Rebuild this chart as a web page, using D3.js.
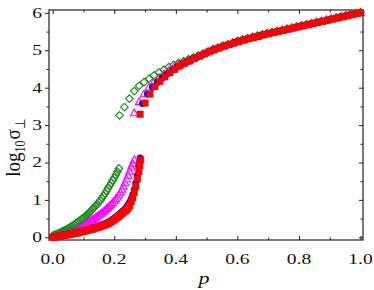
<!DOCTYPE html>
<html><head><meta charset="utf-8">
<script src="https://cdn.jsdelivr.net/npm/d3@7"></script>
<style>html,body{margin:0;padding:0;background:#fff;}svg{display:block;}</style>
</head><body><div id="chart"></div>
<script>
// ---------- data ----------
// lower branches (p, log10 sigma)
const greenLowP = [0,0.005,0.01,0.015,0.02,0.025,0.03,0.035,0.04,0.045,0.05,0.055,0.06,0.065,0.07,0.075,0.08,0.085,0.09,0.095,0.10,0.105,0.11,0.115,0.12,0.125,0.13,0.135,0.14,0.145,0.15,0.155,0.16,0.165,0.17,0.175,0.18,0.185,0.19,0.195,0.20,0.205,0.21,0.215];
const greenLowY = [0.04,0.06,0.08,0.09,0.11,0.13,0.15,0.17,0.19,0.21,0.24,0.26,0.29,0.31,0.34,0.37,0.40,0.43,0.46,0.49,0.52,0.55,0.59,0.63,0.67,0.71,0.76,0.80,0.85,0.89,0.94,0.99,1.05,1.11,1.17,1.24,1.31,1.38,1.45,1.52,1.59,1.67,1.75,1.84];
const magLowP = [0,0.005,0.01,0.015,0.02,0.025,0.03,0.035,0.04,0.045,0.05,0.055,0.06,0.065,0.07,0.075,0.08,0.085,0.09,0.095,0.10,0.105,0.11,0.115,0.12,0.125,0.13,0.135,0.14,0.145,0.15,0.155,0.16,0.165,0.17,0.175,0.18,0.185,0.19,0.195,0.20,0.205,0.21,0.215,0.22,0.225,0.23,0.235,0.24,0.245,0.25,0.255,0.26,0.265];
const magLowY = [0.02,0.03,0.04,0.06,0.07,0.08,0.10,0.11,0.12,0.14,0.15,0.17,0.18,0.20,0.21,0.23,0.25,0.27,0.29,0.31,0.33,0.35,0.37,0.40,0.42,0.45,0.47,0.50,0.53,0.56,0.59,0.62,0.65,0.69,0.72,0.76,0.80,0.84,0.88,0.92,0.97,1.02,1.07,1.13,1.20,1.28,1.36,1.45,1.55,1.65,1.76,1.87,1.97,2.07];
const blueLowP = [0,0.005,0.01,0.015,0.02,0.025,0.03,0.035,0.04,0.045,0.05,0.055,0.06,0.065,0.07,0.075,0.08,0.085,0.09,0.095,0.10,0.105,0.11,0.115,0.12,0.125,0.13,0.135,0.14,0.145,0.15,0.155,0.16,0.165,0.17,0.175,0.18,0.185,0.19,0.195,0.20,0.205,0.21,0.215,0.22,0.225,0.23,0.235,0.24,0.245,0.25,0.255,0.26,0.265,0.27,0.275,0.28,0.2825,0.284];
const blueLowY = [0.01,0.02,0.03,0.03,0.04,0.05,0.06,0.06,0.07,0.08,0.09,0.10,0.10,0.11,0.12,0.13,0.14,0.15,0.16,0.17,0.18,0.19,0.20,0.21,0.22,0.23,0.25,0.26,0.27,0.29,0.30,0.32,0.33,0.35,0.36,0.38,0.40,0.42,0.45,0.48,0.51,0.54,0.57,0.60,0.64,0.68,0.72,0.76,0.81,0.87,0.94,1.03,1.14,1.28,1.45,1.65,1.88,2.00,2.12];
const redLowP = [0,0.005,0.01,0.015,0.02,0.025,0.03,0.035,0.04,0.045,0.05,0.055,0.06,0.065,0.07,0.075,0.08,0.085,0.09,0.095,0.10,0.105,0.11,0.115,0.12,0.125,0.13,0.135,0.14,0.145,0.15,0.155,0.16,0.165,0.17,0.175,0.18,0.185,0.19,0.195,0.20,0.205,0.21,0.215,0.22,0.225,0.23,0.235,0.24,0.245,0.25,0.255,0.26,0.265,0.27,0.275,0.28,0.283,0.286];
const redLowY = [0.00,0.01,0.01,0.02,0.03,0.03,0.04,0.05,0.06,0.06,0.07,0.08,0.09,0.09,0.10,0.11,0.12,0.13,0.14,0.15,0.16,0.17,0.18,0.19,0.20,0.21,0.22,0.24,0.25,0.26,0.27,0.29,0.30,0.32,0.33,0.35,0.37,0.39,0.41,0.44,0.47,0.50,0.53,0.56,0.60,0.63,0.67,0.70,0.73,0.78,0.85,0.95,1.06,1.20,1.36,1.56,1.76,1.92,2.07];

// upper branches
const greenUpP = [0.217,0.233,0.249,0.265,0.281,0.297,0.313,0.329,0.345,0.361,0.377,0.393,0.409,0.425,0.441,0.457,0.473,0.489,0.505,0.521,0.537,0.553,0.569,0.585,0.601,0.617,0.633,0.649,0.665,0.681,0.697,0.713,0.729,0.745,0.761,0.777,0.793,0.809,0.825,0.841,0.857,0.873,0.889,0.905,0.921,0.937,0.953,0.969,0.985,1.000];
const greenUpY = [3.26,3.48,3.71,3.91,4.05,4.15,4.24,4.33,4.41,4.48,4.55,4.61,4.66,4.71,4.76,4.81,4.86,4.91,4.97,5.03,5.07,5.12,5.16,5.20,5.25,5.29,5.32,5.36,5.39,5.42,5.45,5.48,5.51,5.54,5.57,5.60,5.63,5.66,5.69,5.72,5.75,5.78,5.81,5.84,5.87,5.90,5.93,5.96,5.99,6.02];
const magUpP = [0.265,0.281,0.297,0.313,0.329,0.345,0.361,0.377,0.393,0.409,0.425,0.441,0.457,0.473,0.489,0.505,0.521,0.537,0.553,0.569,0.585,0.601,0.617,0.633,0.649,0.665,0.681,0.697,0.713,0.729,0.745,0.761,0.777,0.793,0.809,0.825,0.841,0.857,0.873,0.889,0.905,0.921,0.937,0.953,0.969,0.985,1.000];
const magUpY = [3.32,3.62,3.83,4.01,4.15,4.27,4.37,4.46,4.54,4.61,4.67,4.73,4.79,4.85,4.91,4.96,5.02,5.06,5.11,5.15,5.20,5.24,5.28,5.31,5.35,5.38,5.42,5.45,5.48,5.51,5.54,5.57,5.60,5.63,5.66,5.69,5.72,5.75,5.78,5.81,5.84,5.87,5.90,5.93,5.96,5.99,6.01];
const blueUpP = [0.292,0.308,0.324,0.340,0.356,0.372,0.388,0.404,0.420,0.436,0.452,0.468,0.484,0.500,0.516,0.532,0.548,0.564,0.580,0.596,0.612,0.628,0.644,0.660,0.676,0.692,0.708,0.724,0.740,0.756,0.772,0.788,0.804,0.820,0.836,0.852,0.868,0.884,0.900,0.916,0.932,0.948,0.964,0.980,0.996];
const blueUpY = [3.58,3.83,4.01,4.14,4.26,4.37,4.47,4.55,4.62,4.69,4.75,4.81,4.87,4.93,4.99,5.04,5.09,5.13,5.17,5.22,5.26,5.29,5.33,5.36,5.40,5.43,5.46,5.49,5.52,5.55,5.58,5.61,5.64,5.67,5.70,5.73,5.76,5.79,5.82,5.85,5.88,5.91,5.94,5.97,6.00];
const redUpP = [0.284,0.300,0.316,0.332,0.348,0.364,0.380,0.396,0.412,0.428,0.444,0.460,0.476,0.492,0.508,0.524,0.540,0.556,0.572,0.588,0.604,0.620,0.636,0.652,0.668,0.684,0.700,0.716,0.732,0.748,0.764,0.780,0.796,0.812,0.828,0.844,0.860,0.876,0.892,0.908,0.924,0.940,0.956,0.972,0.988,1.000];
const redUpY = [3.29,3.59,3.83,4.03,4.17,4.29,4.40,4.49,4.58,4.65,4.71,4.78,4.84,4.90,4.96,5.01,5.06,5.11,5.15,5.19,5.23,5.27,5.31,5.34,5.37,5.41,5.44,5.47,5.50,5.53,5.56,5.59,5.62,5.65,5.68,5.71,5.74,5.77,5.80,5.83,5.86,5.89,5.92,5.95,5.98,6.00];

const xTicks = [0,0.2,0.4,0.6,0.8,1.0];
const xMinor = [0.1,0.3,0.5,0.7,0.9];
const yTicks = [0,1,2,3,4,5,6];
const yMinor = [0.5,1.5,2.5,3.5,4.5,5.5];

// ---------- layout ----------
const W = 374, H = 290;
const L = 49, R = 363, T = 10, B = 240;
const FONT = "'Liberation Serif','Times New Roman',serif";
const SX = 1.3; // horizontal glyph stretch seen in the reference

const svg = d3.select("#chart").append("svg").attr("width", W).attr("height", H);
const x = d3.scaleLinear().domain([-0.012, 1.008]).range([L, R]);
const y = d3.scaleLinear().domain([-0.072, 6.077]).range([B, T]);

const axisColor = "#222";
const majLen = 4, minLen = 2.5;
function styleAxis(g){ g.select(".domain").remove(); g.selectAll("line").attr("stroke", axisColor).attr("stroke-width",1); g.selectAll("text").remove(); }
svg.append("g").attr("transform",`translate(0,${B})`).call(d3.axisTop(x).tickValues(xTicks).tickSize(majLen)).call(styleAxis);
svg.append("g").attr("transform",`translate(0,${B})`).call(d3.axisTop(x).tickValues(xMinor).tickSize(minLen)).call(styleAxis);
svg.append("g").attr("transform",`translate(0,${T})`).call(d3.axisBottom(x).tickValues(xTicks).tickSize(majLen)).call(styleAxis);
svg.append("g").attr("transform",`translate(0,${T})`).call(d3.axisBottom(x).tickValues(xMinor).tickSize(minLen)).call(styleAxis);
svg.append("g").attr("transform",`translate(${L},0)`).call(d3.axisLeft(y).tickValues(yTicks).tickSize(majLen)).call(styleAxis);
svg.append("g").attr("transform",`translate(${L},0)`).call(d3.axisLeft(y).tickValues(yMinor).tickSize(minLen)).call(styleAxis);
svg.append("g").attr("transform",`translate(${R},0)`).call(d3.axisLeft(y).tickValues(yTicks).tickSize(majLen)).call(styleAxis);
svg.append("g").attr("transform",`translate(${R},0)`).call(d3.axisLeft(y).tickValues(yMinor).tickSize(minLen)).call(styleAxis);

svg.append("rect").attr("x",L).attr("y",T).attr("width",R-L).attr("height",B-T)
  .attr("fill","none").attr("stroke",axisColor).attr("stroke-width",1.2);

// tick labels
const fmtX = d3.format(".1f");
svg.append("g").selectAll("text").data(xTicks).join("text")
  .attr("transform", d=>`translate(${x(d)},263.5) scale(${SX},1)`)
  .attr("text-anchor","middle").attr("font-family",FONT).attr("font-size",15).attr("fill","#111")
  .text(d=>fmtX(d));
svg.append("g").selectAll("text").data(yTicks).join("text")
  .attr("transform", d=>`translate(42,${y(d)+5}) scale(${SX},1)`)
  .attr("text-anchor","end").attr("font-family",FONT).attr("font-size",15).attr("fill","#111")
  .text(d=>d);

// axis titles
svg.append("text").attr("transform",`translate(204,284) scale(${SX},1)`)
  .attr("text-anchor","middle").attr("font-family",FONT).attr("font-size",17)
  .attr("font-style","italic").attr("fill","#111").text("p");
const yl = svg.append("text").attr("transform",`translate(20,148) rotate(-90) scale(1,1.15)`)
  .attr("text-anchor","middle").attr("font-family",FONT).attr("font-size",19).attr("fill","#111");
yl.append("tspan").text("log");
yl.append("tspan").attr("font-size",12).attr("dy",4).text("10");
yl.append("tspan").attr("dy",-4).attr("dx",1).text("σ");
yl.append("tspan").attr("font-size",12).attr("dy",4).text("⊥");

// ---------- marks ----------
const plot = svg.append("g");
function pts(P, Y){ return P.map((p,i)=>({p, v:Y[i]})); }
const diamond = "M0,-3.8L3.8,0L0,3.8L-3.8,0Z";
const triangle = "M0,-4L3.8,2.7L-3.8,2.7Z";
function drawPath(data, d, fill, stroke, sw){
  plot.append("g").selectAll("path").data(data).join("path")
    .attr("transform", q=>`translate(${x(q.p)},${y(q.v)})`)
    .attr("d", d).attr("fill", fill).attr("stroke", stroke).attr("stroke-width", sw);
}
const magAll = pts(magLowP, magLowY).concat(pts(magUpP, magUpY));
const greenAll = pts(greenLowP, greenLowY).concat(pts(greenUpP, greenUpY));
const blueAll = pts(blueLowP, blueLowY).concat(pts(blueUpP, blueUpY));
const redAll = pts(redLowP, redLowY).concat(pts(redUpP, redUpY));

drawPath(magAll, triangle, "none", "#ff00ff", 1.1);
drawPath(greenAll, diamond, "none", "#1f8a1f", 1.2);
plot.append("g").selectAll("circle").data(blueAll).join("circle")
  .attr("cx", q=>x(q.p)).attr("cy", q=>y(q.v)).attr("r",3.5).attr("fill","#0000ff");
plot.append("g").selectAll("rect").data(redAll).join("rect")
  .attr("x", q=>x(q.p)-3.5).attr("y", q=>y(q.v)-3.5).attr("width",7).attr("height",7).attr("fill","#ff0000");
</script></body></html>
